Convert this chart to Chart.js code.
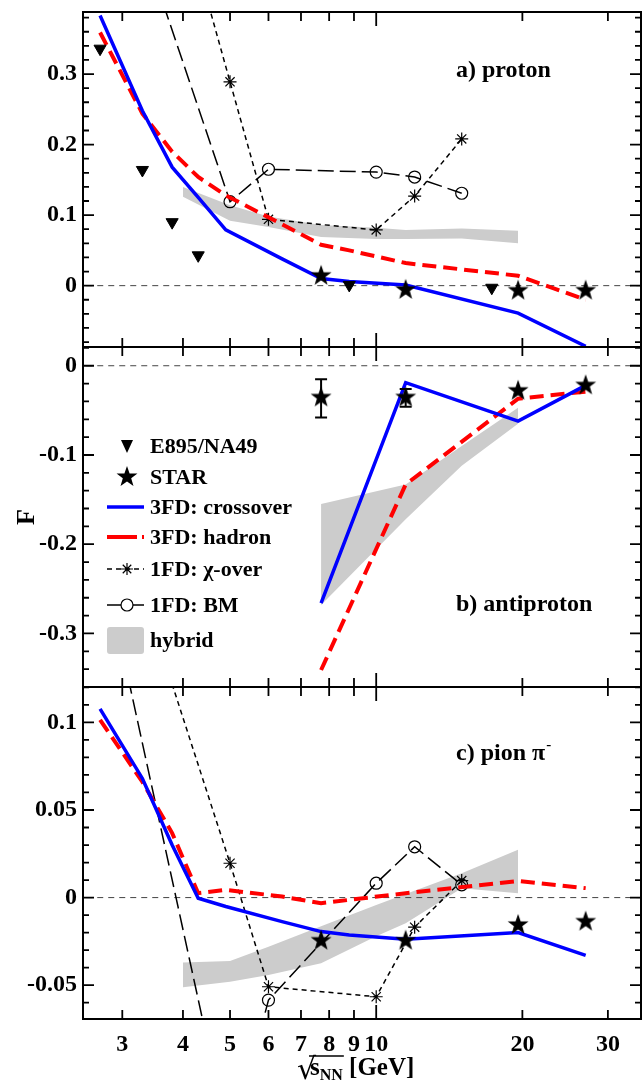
<!DOCTYPE html>
<html>
<head>
<meta charset="utf-8">
<script src="https://cdn.jsdelivr.net/npm/chart.js@4.4.1/dist/chart.umd.min.js"></script>
<style>
  body { margin: 0; background: #fff; }
  #wrap { position: relative; width: 644px; height: 1084px; }
  canvas { position: absolute; left: 0; }
</style>
</head>
<body>
<div id="wrap">
  <canvas id="cA" width="644" height="360" style="top:0"></canvas>
  <canvas id="cB" width="644" height="360" style="top:340px"></canvas>
  <canvas id="cC" width="644" height="404" style="top:680px"></canvas>
</div>
<script>
// --- data ---
const xTicks = [3, 4, 5, 6, 7, 8, 9, 10, 20, 30];

// 3FD energies (sqrt sNN, GeV)
const e3fd = [2.7, 3.3, 3.8, 4.3, 4.9, 6.4, 7.7, 8.8, 11.5, 19.6, 27];
const crossA = [0.383, 0.248, 0.168, 0.125, 0.079, 0.038, 0.010, 0.006, 0.001, -0.039, -0.086];
const hadronA = [0.359, 0.244, 0.190, 0.154, 0.128, 0.087, 0.058, 0.050, 0.032, 0.014, -0.020];
const crossC = [0.1077, 0.068, 0.030, -0.0004, -0.0051, -0.0137, -0.0194, -0.0213, -0.0238, -0.0200, -0.033];
const hadronC = [0.1015, 0.066, 0.0368, 0.0025, 0.0044, 0.0006, -0.0032, -0.0013, 0.0025, 0.0095, 0.0054];
const eB = [7.7, 11.5, 19.6, 27];
const crossB = [-0.266, -0.019, -0.062, -0.022];
const hadronB = [-0.341, -0.133, -0.037, -0.029];

// 1FD
const e1fd = [2.7, 5, 6, 10, 12, 15];
const chiA = [0.951, 0.289, 0.094, 0.079, 0.127, 0.208];
const bmA = [0.665, 0.119, 0.165, 0.161, 0.154, 0.131];
const chiC = [0.249, 0.0196, -0.0509, -0.0566, -0.0169, 0.0097];
const bmC = [0.199, -0.1415, -0.0585, 0.0082, 0.029, 0.0073];

// hybrid band
const eHyb = [4.0, 5.0, 6.0, 7.7, 10, 11.5, 15, 19.6];
const hybUpA = [0.140, 0.114, 0.098, 0.086, 0.082, 0.079, 0.081, 0.078];
const hybLoA = [0.126, 0.092, 0.083, 0.069, 0.066, 0.066, 0.067, 0.060];
const hybUpC = [-0.0371, -0.0362, -0.028, -0.0164, -0.0043, 0.002, 0.0139, 0.0273];
const hybLoC = [-0.0512, -0.048, -0.0442, -0.0375, -0.022, -0.0146, 0.0054, 0.0025];
const eHybB = [7.7, 11.5, 15, 19.6];
const hybUpB = [-0.155, -0.133, -0.090, -0.047];
const hybLoB = [-0.268, -0.172, -0.112, -0.065];

// experiment
const eE895 = [2.7, 3.3, 3.8, 4.3, 8.8, 17.3];
const e895A = [0.336, 0.164, 0.090, 0.043, 0.001, -0.003];
const eStar = [7.7, 11.5, 19.6, 27];
const starA = [0.014, -0.006, -0.007, -0.007];
const starB = [-0.0355, -0.0355, -0.028, -0.022];
const starBLo = [-0.058, -0.046, null, null];
const starBHi = [-0.015, -0.026, null, null];
const starC = [-0.0246, -0.0246, -0.0156, -0.0137];

// --- helpers ---
const FONT = 'bold 24px "Liberation Serif", "DejaVu Serif", serif';
const LFONT = 'bold 22px "Liberation Serif", "DejaVu Serif", serif';
const xy = (xs, ys) => xs.map((x, i) => ({ x: x, y: ys[i] }));

function makeStar(r) {
  const c = document.createElement('canvas');
  c.width = c.height = 2 * r + 2;
  const g = c.getContext('2d');
  g.beginPath();
  for (let i = 0; i < 10; i++) {
    const rr = i % 2 ? r * 0.4 : r;
    const a = -Math.PI / 2 + i * Math.PI / 5;
    g.lineTo(r + 1 + rr * Math.cos(a), r + 1 + rr * Math.sin(a));
  }
  g.closePath();
  g.fillStyle = '#000';
  g.fill();
  return c;
}
const starImg = makeStar(11);

const BLUE = '#0000ff', RED = '#ff0000', GREY = '#cccccc';

function bandSets(xs, up, lo) {
  return [
    { data: xy(xs, up), fill: '+1', backgroundColor: GREY, borderColor: 'rgba(0,0,0,0)', borderWidth: 0, pointRadius: 0, order: 10 },
    { data: xy(xs, lo), fill: false, borderColor: 'rgba(0,0,0,0)', borderWidth: 0, pointRadius: 0, order: 10 }
  ];
}
const zeroSet = { data: [{ x: 2.4, y: 0 }, { x: 40, y: 0 }], borderColor: '#444', borderWidth: 1, borderDash: [6, 5], pointRadius: 0, order: 9 };
const lineSet = (xs, ys, color, w, dash, order) => ({ data: xy(xs, ys), borderColor: color, borderWidth: w, borderDash: dash, pointRadius: 0, order: order });
const chiSet = (ys) => ({ data: xy(e1fd, ys), borderColor: '#000', borderWidth: 1.5, borderDash: [5, 4], pointStyle: 'star', pointRadius: 6.5, pointBorderColor: '#000', pointBorderWidth: 1.2, order: 5 });
const bmSet = (ys) => ({ data: xy(e1fd, ys), borderColor: '#000', borderWidth: 1.5, borderDash: [16, 6], pointStyle: 'circle', pointRadius: 6, pointBackgroundColor: 'rgba(0,0,0,0)', pointBorderColor: '#000', pointBorderWidth: 1.2, order: 5 });
const triSet = (ys) => ({ data: xy(eE895, ys), showLine: false, pointStyle: 'triangle', pointRotation: 180, pointRadius: 7, pointBackgroundColor: '#000', pointBorderColor: '#000', order: 1 });
const starSet = (ys) => ({ data: xy(eStar, ys), showLine: false, pointStyle: starImg, pointRadius: 11, order: 0 });

// frame with inward ticks, panel text, legend, error bars
const deco = {
  id: 'deco',
  afterDatasetsDraw(chart, args, o) {
    const ctx = chart.ctx, a = chart.chartArea, xs = chart.scales.x, ys = chart.scales.y;
    ctx.save();
    // error bars
    if (o.errLo) {
      ctx.strokeStyle = '#000'; ctx.lineWidth = 2;
      eStar.forEach((e, i) => {
        if (o.errLo[i] == null) return;
        const px = xs.getPixelForValue(e), y1 = ys.getPixelForValue(o.errLo[i]), y2 = ys.getPixelForValue(o.errHi[i]);
        ctx.beginPath();
        ctx.moveTo(px, y1); ctx.lineTo(px, y2);
        ctx.moveTo(px - 6, y1); ctx.lineTo(px + 6, y1);
        ctx.moveTo(px - 6, y2); ctx.lineTo(px + 6, y2);
        ctx.stroke();
      });
    }
    // frame
    ctx.strokeStyle = '#000'; ctx.lineWidth = 2;
    ctx.strokeRect(a.left, a.top, a.right - a.left, a.bottom - a.top);
    ctx.lineWidth = 1.8;
    ctx.beginPath();
    xTicks.forEach(v => {
      const px = xs.getPixelForValue(v), L = v === 10 ? 14 : 9;
      ctx.moveTo(px, a.bottom); ctx.lineTo(px, a.bottom - L);
      ctx.moveTo(px, a.top); ctx.lineTo(px, a.top + L);
    });
    const st = o.minor;
    for (let v = Math.ceil(ys.min / st) * st; v <= ys.max + 1e-9; v += st) {
      const py = ys.getPixelForValue(v);
      const major = o.major.some(m => Math.abs(m - v) < st / 10);
      const L = major ? 11 : 6;
      ctx.moveTo(a.left, py); ctx.lineTo(a.left + L, py);
      ctx.moveTo(a.right, py); ctx.lineTo(a.right - L, py);
    }
    ctx.stroke();
    // panel label
    ctx.fillStyle = '#000';
    ctx.font = FONT;
    ctx.textBaseline = 'alphabetic';
    ctx.textAlign = 'left';
    const lx = a.left + 373, ly = a.top + o.labelDy;
    ctx.fillText(o.label, lx, ly);
    if (o.sup) {
      const w = ctx.measureText(o.label).width;
      ctx.font = 'bold 15px "Liberation Serif", serif';
      ctx.fillText(o.sup, lx + w + 1, ly - 11);
    }
    if (o.legend) drawLegend(ctx, a);
    ctx.fillStyle = '#000';
    if (o.yTitle) {
      ctx.save();
      ctx.translate(a.left - 56, a.top + 170);
      ctx.rotate(-Math.PI / 2);
      ctx.font = 'bold 26px "Liberation Serif", serif';
      ctx.textAlign = 'center'; ctx.textBaseline = 'middle';
      ctx.fillText('F', 0, 0);
      ctx.restore();
    }
    if (o.xTitle) {
      const x0 = a.left + 214, yb = a.bottom + 56;
      ctx.font = '30px "DejaVu Serif", serif';
      ctx.fillText('\u221A', x0, yb + 4);
      let x = x0 + 13;
      ctx.font = 'bold 25px "Liberation Serif", serif';
      ctx.fillText('s', x, yb);
      const sw = ctx.measureText('s').width;
      ctx.font = 'bold 16px "Liberation Serif", serif';
      ctx.fillText('NN', x + sw, yb + 5);
      const nw = ctx.measureText('NN').width;
      ctx.lineWidth = 1.5;
      ctx.beginPath(); ctx.moveTo(x - 1, yb - 19); ctx.lineTo(x + sw + nw + 1, yb - 19); ctx.stroke();
      ctx.font = 'bold 25px "Liberation Serif", serif';
      ctx.fillText(' [GeV]', x + sw + nw, yb);
    }
    ctx.restore();
  }
};

function drawLegend(ctx, a) {
  const mx = a.left + 44, tx = a.left + 67, l0 = a.left + 24, l1 = a.left + 61;
  const rows = [99, 130, 160, 190, 222, 258, 293].map(d => a.top + d);
  const names = ['E895/NA49', 'STAR', '3FD: crossover', '3FD: hadron', '1FD: \u03C7-over', '1FD: BM', 'hybrid'];
  ctx.font = LFONT; ctx.textBaseline = 'middle'; ctx.textAlign = 'left'; ctx.fillStyle = '#000';
  names.forEach((n, i) => ctx.fillText(n, tx, rows[i] + 1));
  // triangle
  ctx.beginPath();
  ctx.moveTo(mx - 6, rows[0] - 6); ctx.lineTo(mx + 6, rows[0] - 6); ctx.lineTo(mx, rows[0] + 7); ctx.closePath(); ctx.fill();
  ctx.drawImage(starImg, mx - starImg.width / 2, rows[1] - starImg.height / 2);
  ctx.lineWidth = 3.5; ctx.strokeStyle = BLUE;
  ctx.beginPath(); ctx.moveTo(l0, rows[2]); ctx.lineTo(l1, rows[2]); ctx.stroke();
  ctx.lineWidth = 4; ctx.strokeStyle = RED; ctx.setLineDash([30, 5]);
  ctx.beginPath(); ctx.moveTo(l0, rows[3]); ctx.lineTo(l1, rows[3]); ctx.stroke();
  ctx.lineWidth = 1.5; ctx.strokeStyle = '#000'; ctx.setLineDash([5, 4]);
  ctx.beginPath(); ctx.moveTo(l0, rows[4]); ctx.lineTo(l1, rows[4]); ctx.stroke();
  ctx.setLineDash([16, 6]);
  ctx.beginPath(); ctx.moveTo(l0, rows[5]); ctx.lineTo(l1, rows[5]); ctx.stroke();
  ctx.setLineDash([]);
  ctx.lineWidth = 1.2;
  ctx.beginPath();
  [[1, 0], [0, 1], [0.707, 0.707], [0.707, -0.707]].forEach(([c, s]) => {
    ctx.moveTo(mx - 6 * c, rows[4] - 6 * s); ctx.lineTo(mx + 6 * c, rows[4] + 6 * s);
  });
  ctx.stroke();
  ctx.fillStyle = '#fff';
  ctx.beginPath(); ctx.arc(mx, rows[5], 6, 0, 2 * Math.PI); ctx.fill(); ctx.stroke();
  ctx.fillStyle = GREY;
  ctx.beginPath(); ctx.roundRect(l0, rows[6] - 13, 37, 27, 3); ctx.fill();
}

function yAxis(min, max, major) {
  return {
    type: 'linear', min: min, max: max,
    afterBuildTicks: s => { s.ticks = major.map(v => ({ value: v })); },
    afterFit: s => { s.width = 83; s.paddingTop = 0; s.paddingBottom = 0; },
    ticks: { font: { family: '"Liberation Serif", serif', size: 24, weight: 'bold' }, color: '#000', padding: 6,
      callback: v => (v === 0 ? '0' : String(Math.round(v * 100) / 100)) },
    grid: { display: false, drawTicks: false }, border: { display: false }
  };
}
function xAxis(show) {
  return {
    type: 'logarithmic', min: 2.49, max: 35.1, display: show,
    afterBuildTicks: s => { s.ticks = xTicks.map(v => ({ value: v })); },
    afterFit: s => { s.height = show ? 65 : 0; s.paddingLeft = 0; s.paddingRight = 0; },
    ticks: { font: { family: '"Liberation Serif", serif', size: 24, weight: 'bold' }, color: '#000', padding: 11,
      autoSkip: false, maxRotation: 0, callback: v => String(v) },
    grid: { display: false, drawTicks: false }, border: { display: false }
  };
}
function baseOpts(pad, y, deco, showX) {
  return {
    responsive: false, animation: false, events: [],
    layout: { padding: pad, autoPadding: false },
    datasets: { line: { clip: 0 } },
    scales: { x: xAxis(showX), y: y },
    plugins: { legend: { display: false }, tooltip: { enabled: false }, deco: deco }
  };
}

new Chart(document.getElementById('cA'), {
  type: 'line',
  data: { datasets: [
    ...bandSets(eHyb, hybUpA, hybLoA), zeroSet,
    chiSet(chiA), bmSet(bmA),
    lineSet(e3fd, hadronA, RED, 4, [14, 7], 3),
    lineSet(e3fd, crossA, BLUE, 3.5, [], 2),
    triSet(e895A), starSet(starA)
  ] },
  options: baseOpts({ top: 12, bottom: 13, left: 0, right: 3 }, yAxis(-0.087, 0.388, [0, 0.1, 0.2, 0.3]),
    { minor: 0.02, major: [0, 0.1, 0.2, 0.3], label: 'a) proton', labelDy: 65 }, false),
  plugins: [deco]
});

new Chart(document.getElementById('cB'), {
  type: 'line',
  data: { datasets: [
    ...bandSets(eHybB, hybUpB, hybLoB), zeroSet,
    lineSet(eB, hadronB, RED, 4, [14, 7], 3),
    lineSet(eB, crossB, BLUE, 3.5, [], 2),
    starSet(starB)
  ] },
  options: baseOpts({ top: 7, bottom: 13, left: 0, right: 3 }, yAxis(-0.36, 0.021, [0, -0.1, -0.2, -0.3]),
    { minor: 0.02, major: [0, -0.1, -0.2, -0.3], label: 'b) antiproton', labelDy: 264, legend: true, yTitle: true,
      errLo: starBLo, errHi: starBHi }, false),
  plugins: [deco]
});

new Chart(document.getElementById('cC'), {
  type: 'line',
  data: { datasets: [
    ...bandSets(eHyb, hybUpC, hybLoC), zeroSet,
    chiSet(chiC), bmSet(bmC),
    lineSet(e3fd, hadronC, RED, 4, [14, 7], 3),
    lineSet(e3fd, crossC, BLUE, 3.5, [], 2),
    starSet(starC)
  ] },
  options: baseOpts({ top: 7, bottom: 0, left: 0, right: 3 }, yAxis(-0.0693, 0.1202, [-0.05, 0, 0.05, 0.1]),
    { minor: 0.01, major: [-0.05, 0, 0.05, 0.1], label: 'c) pion \u03C0', sup: '-', labelDy: 73, xTitle: true }, true),
  plugins: [deco]
});
</script>
</body>
</html>
